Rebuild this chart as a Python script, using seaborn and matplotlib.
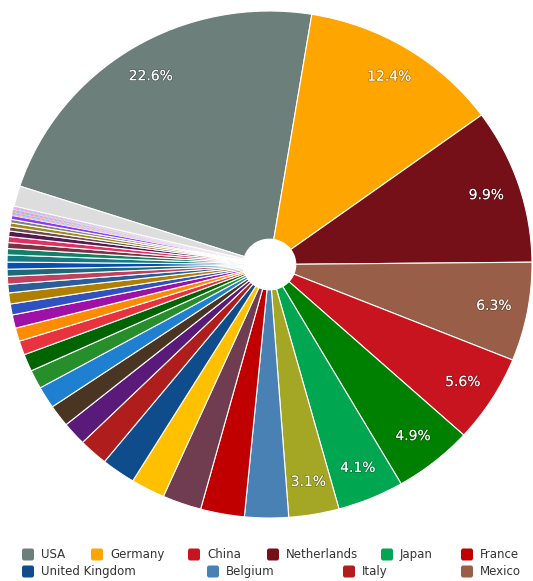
import matplotlib
matplotlib.use("Agg")
import matplotlib.pyplot as plt
import matplotlib.patheffects as pe
from matplotlib.patches import FancyBboxPatch
import seaborn as sns

# Share of trade by partner (%), clockwise from the largest partner
partners = [
    "USA", "Germany", "Netherlands", "Mexico", "China", "Partner 6", "Japan", "Partner 8",
    "Belgium", "France", "Partner 11", "Partner 12", "United Kingdom", "Italy", "Partner 15",
    "Partner 16", "Partner 17", "Partner 18", "Partner 19", "Partner 20", "Partner 21",
    "Partner 22", "Partner 23", "Partner 24", "Partner 25", "Partner 26", "Partner 27",
    "Partner 28", "Partner 29", "Partner 30", "Partner 31", "Partner 32", "Partner 33",
    "Partner 34", "Partner 35", "Partner 36", "Partner 37",
    "Partner 38", "Partner 39", "Partner 40", "Partner 41", "Partner 42",
    "Partner 43", "Partner 44", "Partner 45", "Partner 46", "Partner 47",
    "Others",
]
shares = [
    22.6, 12.4, 9.9, 6.3, 5.6, 4.9, 4.1, 3.1,
    2.7, 2.7, 2.4, 2.1, 2.1, 1.8, 1.5,
    1.4, 1.4, 1.2, 1.1, 0.9, 0.85,
    0.85, 0.7, 0.7, 0.55, 0.5, 0.45,
    0.45, 0.45, 0.4, 0.38, 0.38, 0.35,
    0.26, 0.26, 0.22, 0.25,
    0.06, 0.06, 0.06, 0.06, 0.06,
    0.06, 0.06, 0.06, 0.06, 0.06,
    1.3,
]
slice_colors = [
    "#6d7f7b", "#ffa500", "#751019", "#985e48", "#c8141f", "#008000", "#00a650", "#a3a724",
    "#4a81b4", "#c00000", "#703c4f", "#ffc000", "#0f4c8c", "#b01d1d", "#5a1a7a",
    "#4a3522", "#1f7fd0", "#268f2c", "#006400", "#e8333f", "#ff8c00",
    "#9e10a6", "#2f52c0", "#b07f00", "#2a5d9a", "#c0405e", "#1b6a7a",
    "#0a4eb0", "#167a80", "#10806a", "#7a3242", "#e03262", "#551a50",
    "#6f4a4a", "#9d8a1e", "#808080", "#8a3aff",
    "#f08a30", "#4a90e0", "#7a3ce0", "#f07a50", "#3a70d8",
    "#a030c8", "#e8a040", "#6a80f0", "#b050e0", "#9a70d0",
    "#dddddd",
]

legend_names = ["USA", "Germany", "China", "Netherlands", "Japan", "France",
                "United Kingdom", "Belgium", "Italy", "Mexico"]
legend_colors = ["#6d7f7b", "#ffa500", "#c8141f", "#751019", "#00a650", "#c00000",
                 "#0f4c8c", "#4a81b4", "#b01d1d", "#985e48"]

sns.set_theme(style="white")
plt.rcParams["font.family"] = ["DejaVu Sans"]

W, H = 533, 581
fig = plt.figure(figsize=(W / 100, H / 100), dpi=100)
fig.patch.set_facecolor("white")

# pie area: center (269.5, 264.5) px, radii 262.5 x 253.5 px
cx, cy, rx, ry = 269.5, 264.5, 262.5, 253.5
ax = fig.add_axes([(cx - rx) / W, (H - cy - ry) / H, 2 * rx / W, 2 * ry / H])

labels = [f"{v:.1f}%" if v >= 3 else "" for v in shares]
wedges, texts = ax.pie(
    shares,
    colors=sns.color_palette(slice_colors, n_colors=len(slice_colors)),
    labels=labels,
    labeldistance=0.87,
    startangle=162,
    counterclock=False,
    radius=1.0,
    wedgeprops=dict(width=0.9, edgecolor="white", linewidth=0.8, clip_on=False),
    textprops=dict(color="white", fontsize=10, ha="center", va="center"),
)
for t in texts:
    t.set_path_effects([pe.withStroke(linewidth=1.2, foreground=(0, 0, 0, 0.25))])

# the very thin slices keep a hairline border so their colour still shows
for w, v in zip(wedges, shares):
    if v < 0.1:
        w.set_linewidth(0.25)

ax.set_aspect("auto")
ax.set_xlim(-1, 1)
ax.set_ylim(-1, 1)
ax.axis("off")

# legend laid out in two rows below the pie
legend_pos = [
    (22, 554.5), (91, 554.5), (188, 554.5), (267, 554.5), (381, 554.5), (461, 554.5),
    (22, 571.5), (207, 571.5), (343, 571.5), (461, 571.5),
]
sq = 12
for name, col, (px, py) in zip(legend_names, legend_colors, legend_pos):
    box = FancyBboxPatch(
        (px / W, (H - py - sq / 2) / H), sq / W, sq / H,
        boxstyle="round,pad=0,rounding_size=0.004",
        transform=fig.transFigure, facecolor=col, edgecolor="none",
    )
    fig.patches.append(box)
    fig.text((px + 19) / W, (H - py) / H, name, color="#333333",
             fontsize=8.5, ha="left", va="center")

fig.savefig("out.png", dpi=100, facecolor="white")
